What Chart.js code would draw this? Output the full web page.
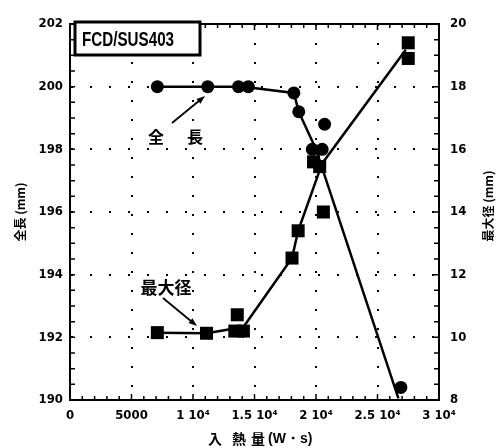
<!DOCTYPE html>
<html>
<head>
<meta charset="utf-8">
<script src="https://cdn.jsdelivr.net/npm/chart.js@4.4.0/dist/chart.umd.min.js"></script>
<style>
  html, body { margin: 0; padding: 0; background: #fff; }
  #chart { display: block; }
</style>
</head>
<body>
<canvas id="chart" width="496" height="448"></canvas>
<script>
// 全長 (mm), left axis - measured points
var lengthX = [7100, 11200, 13700, 14500, 18200, 18600, 19700, 20500, 20700, 26900];
var lengthY = [200.0, 200.0, 200.0, 200.0, 199.8, 199.2, 198.0, 198.0, 198.8, 190.4];
// 全長 trend line
var lengthLineX = [7100, 11200, 14100, 18200, 18600, 20000, 26700];
var lengthLineY = [200.0, 200.0, 200.0, 199.8, 199.2, 198.0, 190.05];

// 最大径 (mm), right axis - measured points
var diaX = [7100, 11100, 13400, 14100, 13600, 18050, 18550, 19800, 20300, 20600, 27500, 27500];
var diaY = [10.15, 10.13, 10.2, 10.2, 10.72, 12.53, 13.4, 15.6, 15.45, 14.0, 19.4, 18.9];
// 最大径 trend line
var diaLineX = [7100, 11100, 14100, 18050, 18550, 20500, 27300];
var diaLineY = [10.15, 10.13, 10.33, 12.53, 13.4, 15.55, 19.18];

var xTicks = [0, 5000, 10000, 15000, 20000, 25000, 30000];
var xTickLabels = ['0', '5000', '1 10⁴', '1.5 10⁴', '2 10⁴', '2.5 10⁴', '3 10⁴'];

var NUM_FONT = '"Liberation Sans Narrow", "DejaVu Sans Condensed", "Liberation Sans", sans-serif';
var BOX_FONT = '"Liberation Sans", Arial, sans-serif';
var JP_FONT = '"Noto Sans CJK JP", "Noto Sans", sans-serif';

function pts(xs, ys) {
  return xs.map(function (x, i) { return { x: x, y: ys[i] }; });
}

function arrow(c, x1, y1, x2, y2) {
  var ang = Math.atan2(y2 - y1, x2 - x1);
  c.beginPath();
  c.moveTo(x1, y1);
  c.lineTo(x2 - 6 * Math.cos(ang), y2 - 6 * Math.sin(ang));
  c.stroke();
  c.beginPath();
  c.moveTo(x2, y2);
  c.lineTo(x2 - 9 * Math.cos(ang - 0.35), y2 - 9 * Math.sin(ang - 0.35));
  c.lineTo(x2 - 9 * Math.cos(ang + 0.35), y2 - 9 * Math.sin(ang + 0.35));
  c.closePath();
  c.fill();
}

var decor = {
  id: 'decor',
  afterDraw: function (chart) {
    var c = chart.ctx, a = chart.chartArea;
    var sx = chart.scales.x, yl = chart.scales.y, yr = chart.scales.y2;
    c.save();
    c.strokeStyle = '#000';
    c.fillStyle = '#000';

    // top frame
    c.lineWidth = 2;
    c.beginPath();
    c.moveTo(a.left - 1, a.top);
    c.lineTo(a.right + 1, a.top);
    c.stroke();

    // inward tick marks
    c.lineWidth = 1.5;
    c.beginPath();
    for (var v = 1000; v < 30000; v += 1000) {
      var px = sx.getPixelForValue(v);
      var len = v % 5000 === 0 ? 6 : 4;
      c.moveTo(px, a.bottom); c.lineTo(px, a.bottom - len);
      c.moveTo(px, a.top); c.lineTo(px, a.top + len);
    }
    for (var w = 190.5; w < 202; w += 0.5) {
      var py = yl.getPixelForValue(w);
      c.moveTo(a.left, py); c.lineTo(a.left + 5, py);
    }
    for (var r = 8.5; r < 20; r += 0.5) {
      var pr = yr.getPixelForValue(r);
      c.moveTo(a.right, pr); c.lineTo(a.right - 5, pr);
    }
    c.stroke();

    // sample label box
    c.fillStyle = '#fff';
    c.fillRect(a.left + 5, a.top - 2, 125, 33);
    c.lineWidth = 3;
    c.strokeRect(a.left + 5, a.top - 2, 125, 33);
    c.fillStyle = '#000';
    c.save();
    c.translate(a.left + 12, a.top + 16);
    c.scale(0.76, 1);
    c.font = 'bold 20px ' + BOX_FONT;
    c.textAlign = 'left';
    c.textBaseline = 'middle';
    c.fillText('FCD/SUS403', 0, 0);
    c.restore();

    // annotations
    c.textAlign = 'center';
    c.textBaseline = 'middle';
    c.font = 'bold 16px ' + JP_FONT;
    c.fillText('全', 156, 137);
    c.fillText('長', 195, 137);
    c.lineWidth = 1.8;
    arrow(c, 172, 123, 205, 96);

    c.font = 'bold 17px ' + JP_FONT;
    c.fillText('最大径', 166, 288);
    arrow(c, 163, 298, 197, 326);

    // x axis title
    c.font = 'bold 14px ' + JP_FONT;
    c.fillText('入', 215, 439);
    c.fillText('熱', 239, 439);
    c.fillText('量', 258, 439);
    c.textAlign = 'left';
    c.font = 'bold 14px ' + BOX_FONT;
    c.fillText('(W・s)', 268, 439);

    // right axis title, reading bottom to top
    c.translate(488, 206);
    c.rotate(-Math.PI / 2);
    c.textAlign = 'center';
    c.font = 'bold 12px ' + JP_FONT;
    c.fillText('最大径 (mm)', 0, 0);
    c.restore();
  }
};

Chart.defaults.color = '#000';
Chart.defaults.font.family = NUM_FONT;

var ctx = document.getElementById('chart');
var myChart = new Chart(ctx, {
  type: 'scatter',
  data: {
    datasets: [
      {
        data: pts(lengthX, lengthY),
        yAxisID: 'y',
        pointStyle: 'circle',
        pointRadius: 6.5,
        backgroundColor: '#000',
        borderColor: '#000',
        borderWidth: 0
      },
      {
        data: pts(diaX, diaY),
        yAxisID: 'y2',
        pointStyle: 'rect',
        pointRadius: 9.2,
        backgroundColor: '#000',
        borderColor: '#000',
        borderWidth: 0
      },
      {
        data: pts(lengthLineX, lengthLineY),
        yAxisID: 'y',
        showLine: true,
        pointRadius: 0,
        borderColor: '#000',
        borderWidth: 2.5
      },
      {
        data: pts(diaLineX, diaLineY),
        yAxisID: 'y2',
        showLine: true,
        pointRadius: 0,
        borderColor: '#000',
        borderWidth: 2.5
      }
    ]
  },
  options: {
    responsive: false,
    animation: false,
    devicePixelRatio: 1,
    layout: { padding: { top: 24, left: 0, right: 0, bottom: 0 } },
    plugins: {
      legend: { display: false },
      tooltip: { enabled: false }
    },
    scales: {
      x: {
        type: 'linear',
        min: 0,
        max: 30000,
        afterFit: function (s) { s.height = 48; },
        afterBuildTicks: function (s) {
          s.ticks = xTicks.map(function (v) { return { value: v }; });
        },
        ticks: {
          autoSkip: false,
          maxRotation: 0,
          padding: 8,
          font: { size: 13, weight: 'bold' },
          callback: function (value) { return xTickLabels[xTicks.indexOf(value)]; }
        },
        grid: { color: '#000', lineWidth: 2, drawTicks: false },
        border: { color: '#000', width: 2, dash: [2, 17] }
      },
      y: {
        position: 'left',
        min: 190,
        max: 202,
        afterFit: function (s) { s.width = 70; },
        ticks: {
          stepSize: 2,
          padding: 7,
          font: { size: 13, weight: 'bold' }
        },
        grid: { color: '#000', lineWidth: 2, drawTicks: false },
        border: { color: '#000', width: 2, dash: [2, 17] },
        title: {
          display: true,
          text: '全長 (mm)',
          padding: { top: 13, bottom: 0 },
          font: { family: JP_FONT, size: 12, weight: 'bold' }
        }
      },
      y2: {
        position: 'right',
        min: 8,
        max: 20,
        afterFit: function (s) { s.width = 57; },
        ticks: {
          stepSize: 2,
          padding: 11,
          font: { size: 13, weight: 'bold' }
        },
        grid: { drawOnChartArea: false, drawTicks: false },
        border: { color: '#000', width: 2 }
      }
    }
  },
  plugins: [decor]
});
</script>
</body>
</html>
